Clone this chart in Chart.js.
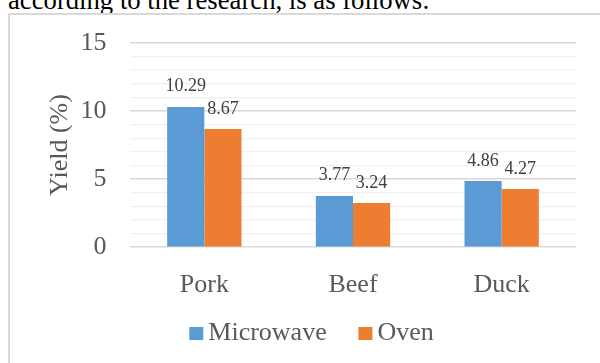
<!DOCTYPE html>
<html>
<head>
<meta charset="utf-8">
<script src="https://cdn.jsdelivr.net/npm/chart.js@4/dist/chart.umd.min.js"></script>
<style>
  html, body { margin: 0; padding: 0; background: #fff; }
  body { width: 600px; height: 363px; overflow: hidden; position: relative; }
  #lead {
    position: absolute; left: 8px; top: -13.4px;
    font: 26.7px "Liberation Serif", serif;
    line-height: 26.7px; color: #000; white-space: nowrap;
  }
  #frame {
    position: absolute; left: 8px; top: 13px; width: 640px; height: 400px;
    border-left: 2px solid #d9d9d9; border-top: 2px solid #d9d9d9; background: #fff;
  }
  #wrap { position: absolute; left: 0; top: 0; width: 603px; height: 348px; }
</style>
</head>
<body>
<div id="lead">according to the research, is as follows:</div>
<div id="frame">
  <div id="wrap"><canvas id="chart" width="603" height="348"></canvas></div>
</div>
<script>
// Yield of each meat under two cooking methods
const categories = ['Pork', 'Beef', 'Duck'];
const microwave = [10.29, 3.77, 4.86];
const oven = [8.67, 3.24, 4.27];
const seriesNames = ['Microwave', 'Oven'];
const yMin = 0;
const yMax = 15;
const yMajorStep = 5;

const SERIF = "'Liberation Serif', serif";
const TEXT_GREY = '#595959';

// Value printed above each bar
const valueLabels = {
  id: 'valueLabels',
  afterDatasetsDraw(chart) {
    const { ctx } = chart;
    ctx.save();
    ctx.font = '18px ' + SERIF;
    ctx.fillStyle = '#404040';
    ctx.textAlign = 'center';
    ctx.textBaseline = 'alphabetic';
    chart.data.datasets.forEach((ds, i) => {
      chart.getDatasetMeta(i).data.forEach((bar, j) => {
        ctx.fillText(ds.data[j].toFixed(2), bar.x, bar.y - 15.5);
      });
    });
    ctx.restore();
  }
};

// Compact legend under the axis: small square, short gap, label
const bottomLegend = {
  id: 'bottomLegend',
  afterDraw(chart) {
    const { ctx } = chart;
    const box = 14, boxH = 13, gap = 5, itemGap = 31.7;
    const baseline = 325;
    ctx.save();
    ctx.font = '26px ' + SERIF;
    const items = chart.data.datasets.map(ds => ({
      text: ds.label, color: ds.backgroundColor, w: ctx.measureText(ds.label).width
    }));
    const total = items.reduce((s, it) => s + box + gap + it.w, 0) + itemGap * (items.length - 1);
    let x = chart.width / 2 - total / 2;
    ctx.textBaseline = 'alphabetic';
    ctx.textAlign = 'left';
    items.forEach(it => {
      ctx.fillStyle = it.color;
      ctx.fillRect(x, baseline - 13, box, boxH);
      ctx.fillStyle = TEXT_GREY;
      ctx.fillText(it.text, x + box + gap, baseline);
      x += box + gap + it.w + itemGap;
    });
    ctx.restore();
  }
};

function build() {
  Chart.defaults.font.family = SERIF;
  new Chart(document.getElementById('chart'), {
    type: 'bar',
    data: {
      labels: categories,
      datasets: [
        { label: seriesNames[0], data: microwave, backgroundColor: '#5b9bd5' },
        { label: seriesNames[1], data: oven, backgroundColor: '#ed7d31' }
      ]
    },
    options: {
      responsive: false,
      devicePixelRatio: 1,
      animation: false,
      layout: { padding: { left: 0, top: 27.7, right: 37, bottom: 55.7 } },
      datasets: { bar: { categoryPercentage: 0.5, barPercentage: 1.0 } },
      plugins: {
        legend: { display: false },
        tooltip: { enabled: false }
      },
      scales: {
        x: {
          grid: { display: false },
          border: { display: false },
          ticks: { color: TEXT_GREY, font: { family: SERIF, size: 26 }, padding: 14 },
          afterFit(s) { s.height = 60; s.paddingLeft = 0; s.paddingRight = 0; }
        },
        y: {
          min: yMin,
          max: yMax,
          border: { display: false },
          grid: {
            drawTicks: false,
            color: c => (c.tick.value % yMajorStep === 0 ? '#d9d9d9' : '#f0f0f0'),
            lineWidth: c => (c.tick.value % yMajorStep === 0 ? 1.6 : 1.3)
          },
          ticks: {
            stepSize: 1,
            autoSkip: false,
            padding: 23.5,
            color: TEXT_GREY,
            font: { family: SERIF, size: 26 },
            callback: v => (v % yMajorStep === 0 ? String(v) : '')
          },
          title: {
            display: true,
            text: 'Yield (%)',
            color: TEXT_GREY,
            font: { family: SERIF, size: 26, lineHeight: 1 },
            padding: { top: 37, bottom: 0 }
          },
          afterFit(s) { s.width = 120; s.paddingTop = 0; s.paddingBottom = 0; }
        }
      }
    },
    plugins: [valueLabels, bottomLegend]
  });
}

// make sure the serif face is ready before the canvas text is laid out
document.fonts.load("26px 'Liberation Serif'").then(build, build);
</script>
</body>
</html>
